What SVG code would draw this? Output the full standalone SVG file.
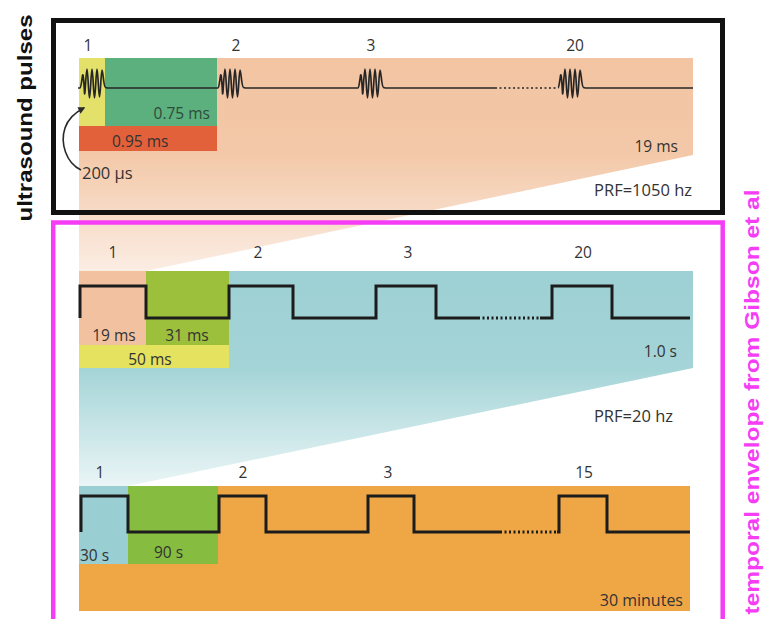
<svg xmlns="http://www.w3.org/2000/svg" xmlns:xlink="http://www.w3.org/1999/xlink" width="766" height="619" viewBox="0 0 766 619">
  <defs>
    <linearGradient id="peachFade" gradientUnits="userSpaceOnUse" x1="0" y1="58" x2="0" y2="271">
      <stop offset="0" stop-color="#F2C4A2"/>
      <stop offset="0.45" stop-color="#F3C8A8"/>
      <stop offset="1" stop-color="#FBEDE4"/>
    </linearGradient>
    <linearGradient id="tealFade" gradientUnits="userSpaceOnUse" x1="0" y1="271" x2="0" y2="486">
      <stop offset="0" stop-color="#9DD0D4"/>
      <stop offset="0.45" stop-color="#A4D4D7"/>
      <stop offset="1" stop-color="#EAF5F6"/>
    </linearGradient>
    <!-- one ultrasound burst, drawn from its left end on the baseline -->
    <path id="burst" d="M0,0 C1,0 1.5,-6 2.5,-12 C3.2,-17 4,-4 4.5,5 C5,11 6,-19 7,-19 C8,-19 8.5,10 9.5,10 C10.5,10 11,-19 12,-19 C13,-19 13.5,10 14.5,10 C15.5,10 16,-19 17,-19 C18,-19 18.5,9 19.5,9 C20.5,9 21,-18 22,-18 C23,-18 23.5,-1 25.5,-0.5 L27,0"/>
    <marker id="arrowHead" viewBox="0 0 10 10" refX="8" refY="5" markerWidth="7" markerHeight="7" orient="auto" markerUnits="userSpaceOnUse">
      <path d="M0,0 L10,5 L0,10 Z" fill="#2a2a2a"/>
    </marker>
  </defs>
  <style>
    .lbl { font-family: "Open Sans", "Noto Sans", sans-serif; font-size: 15.5px; fill: #333333; }
    .num { font-family: "Open Sans", "Noto Sans", sans-serif; font-size: 15.5px; fill: #333333; text-anchor: middle; }
    .end { text-anchor: end; }
    .mid { text-anchor: middle; }
    .pulse { fill: none; stroke: #262626; stroke-width: 1.7; stroke-linejoin: round; }
    .dots { fill: none; stroke-dasharray: 2 2.5; }
    .sq { fill: none; stroke: #1c1c1c; stroke-width: 3; stroke-linejoin: miter; stroke-linecap: butt; }
    .side { font-family: "Liberation Sans", Arial, sans-serif; font-weight: bold; font-size: 21px; text-anchor: middle; }
  </style>

  <rect width="766" height="619" fill="#ffffff"/>

  <!-- zoom funnels linking each time scale to the next -->
  <polygon points="79,58 693,58 693,155 146,271 79,271" fill="url(#peachFade)"/>
  <polygon points="79,271 693,271 693,368 128,486 79,486" fill="url(#tealFade)"/>

  <!-- top row: ultrasound pulse train -->
  <g id="panel-pulses">
    <rect x="79" y="58" width="26" height="68" fill="#E3E16A"/>
    <rect x="105" y="58" width="112" height="68" fill="#5CB07E"/>
    <rect x="79" y="126" width="138" height="25" fill="#E2613A"/>
    <g class="pulse">
      <path d="M78,88 H80"/>
      <use xlink:href="#burst" x="80" y="88"/>
      <path d="M107,88 H218"/>
      <use xlink:href="#burst" x="218" y="88"/>
      <path d="M245,88 H358"/>
      <use xlink:href="#burst" x="358" y="88"/>
      <path d="M385,88 H495"/>
      <path class="dots" d="M495,88 H558"/>
      <use xlink:href="#burst" x="558" y="88"/>
      <path d="M585,88 H693"/>
    </g>
    <text class="num" x="88" y="51">1</text>
    <text class="num" x="236" y="51">2</text>
    <text class="num" x="371" y="51">3</text>
    <text class="num" x="575" y="51">20</text>
    <text class="lbl end" x="210" y="119" style="fill:#2f4a3a">0.75 ms</text>
    <text class="lbl" x="112" y="147">0.95 ms</text>
    <text class="lbl" x="82" y="179" style="font-size:16.5px">200 µs</text>
    <text class="lbl end" x="678" y="152">19 ms</text>
    <text class="lbl end" x="692" y="196" style="font-size:16.5px">PRF=1050 hz</text>
  </g>

  <!-- middle row: pulse bursts -->
  <g id="panel-bursts">
    <rect x="79" y="271" width="67" height="74" fill="#F2C2A0"/>
    <rect x="146" y="271" width="83" height="74" fill="#9CC03C"/>
    <rect x="79" y="345" width="150" height="23" fill="#E4E25E"/>
    <path class="sq" d="M80,318 V286 H146 V318 H229 V286 H293 V318 H376 V286 H436 V318 H478"/>
    <path class="sq dots" d="M478,318 H540"/>
    <path class="sq" d="M540,318 H552 V286 H612 V318 H690"/>
    <text class="num" x="113" y="258">1</text>
    <text class="num" x="258" y="258">2</text>
    <text class="num" x="408" y="258">3</text>
    <text class="num" x="583" y="258">20</text>
    <text class="lbl mid" x="114" y="341">19 ms</text>
    <text class="lbl mid" x="187" y="341">31 ms</text>
    <text class="lbl mid" x="150" y="365">50 ms</text>
    <text class="lbl end" x="677" y="357">1.0 s</text>
    <text class="lbl end" x="673" y="422" style="font-size:16.5px">PRF=20 hz</text>
  </g>

  <!-- bottom row: stimulation session -->
  <g id="panel-session">
    <rect x="79" y="486" width="611" height="125" fill="#EFA746"/>
    <rect x="79" y="486" width="49" height="78" fill="#99CED3"/>
    <rect x="128" y="486" width="90" height="78" fill="#86BD40"/>
    <path class="sq" d="M81,532 V496 H128 V532 H219 V496 H266 V532 H368 V496 H414 V532 H500"/>
    <path class="sq dots" d="M500,532 H557"/>
    <path class="sq" d="M557,532 H559 V496 H607 V532 H690"/>
    <text class="num" x="100" y="478">1</text>
    <text class="num" x="243" y="478">2</text>
    <text class="num" x="388" y="478">3</text>
    <text class="num" x="584" y="478">15</text>
    <text class="lbl" x="80" y="561">30 s</text>
    <text class="lbl" x="154" y="558">90 s</text>
    <text class="lbl end" x="683" y="606" style="font-size:16px">30 minutes</text>
  </g>

  <!-- frames and side titles -->
  <g id="frame-pulses">
    <rect x="53.5" y="20.5" width="669" height="192" fill="none" stroke="#111111" stroke-width="5"/>
    <text class="side" transform="translate(32,118) rotate(-90)" fill="#111111" textLength="207" lengthAdjust="spacingAndGlyphs">ultrasound pulses</text>
  </g>
  <g id="frame-envelope">
    <rect x="53.2" y="222.5" width="669.5" height="430" fill="none" stroke="#F53DF5" stroke-width="4.5"/>
    <text class="side" transform="translate(759,402) rotate(-90)" fill="#F53DF5" textLength="425" lengthAdjust="spacingAndGlyphs">temporal envelope from Gibson et al</text>
  </g>

  <!-- connectors -->
  <g id="connectors">
    <path d="M81,170 C66,163 60,143 65,128 C68,119 74,113 84,108" fill="none" stroke="#2a2a2a" stroke-width="1.6" marker-end="url(#arrowHead)"/>
  </g>
</svg>
